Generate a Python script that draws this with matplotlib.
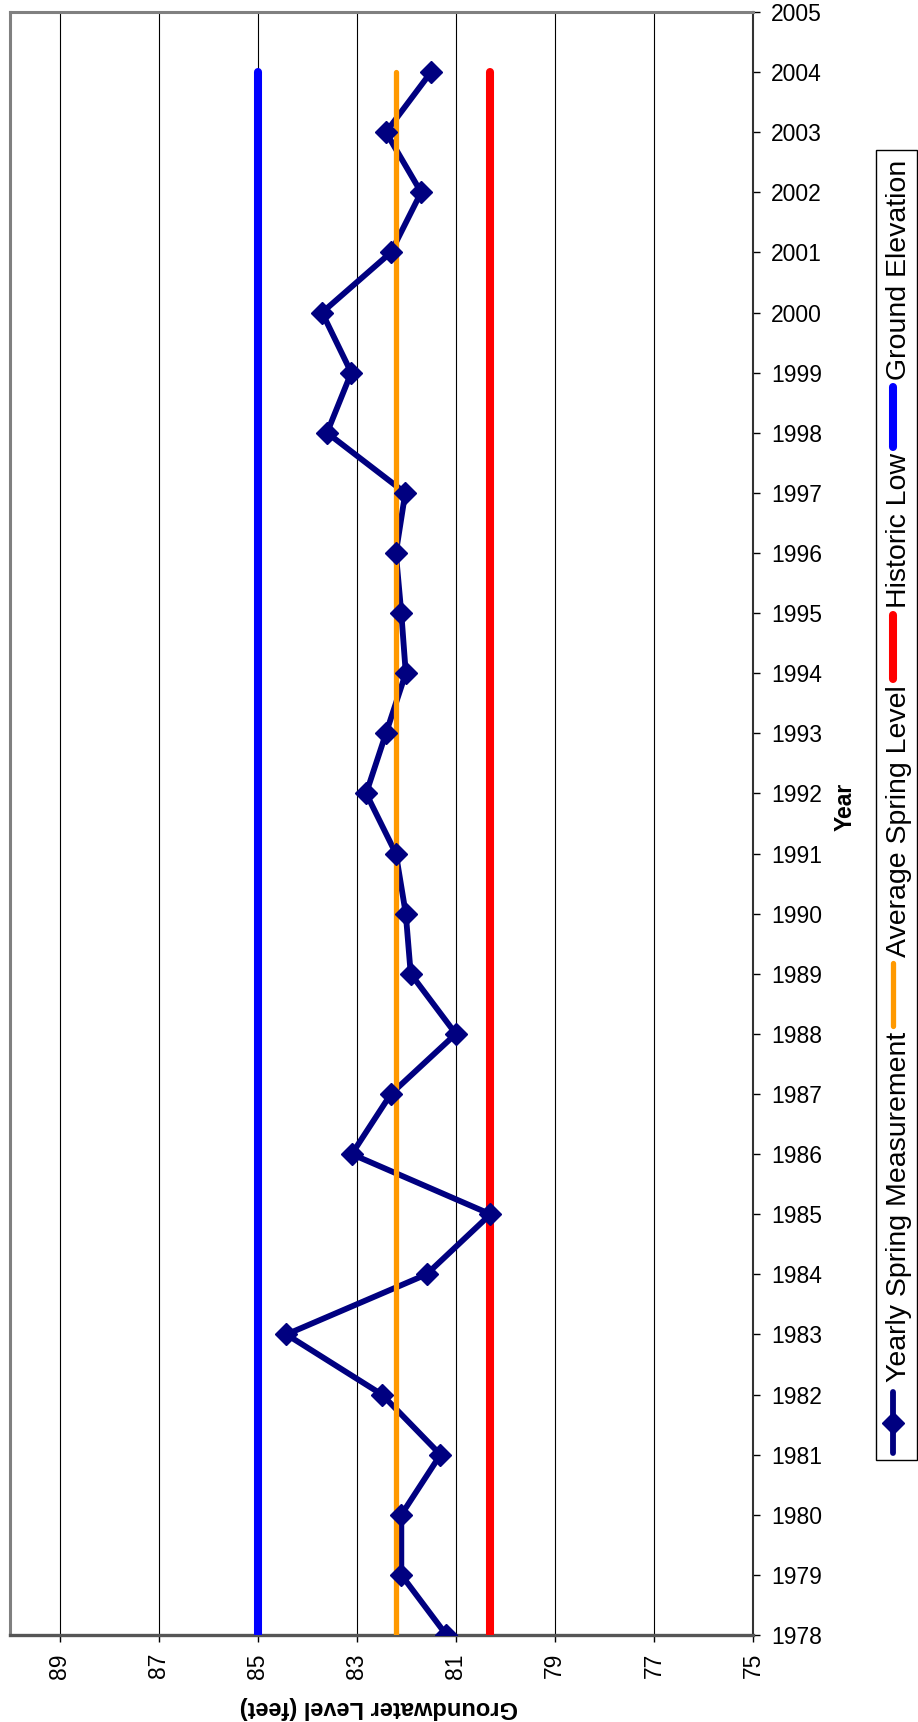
import matplotlib
matplotlib.use("Agg")
import matplotlib.pyplot as plt
from matplotlib.patches import Rectangle
from matplotlib.lines import Line2D

plt.rcParams['font.family'] = ['Liberation Sans', 'DejaVu Sans']

years = list(range(1978, 2005))
spring_level = [81.19, 82.10, 82.10, 81.31, 82.49, 84.42, 81.59, 80.30, 83.10,
                82.31, 81.00, 81.91, 82.01, 82.21, 82.81, 82.41, 82.01, 82.10,
                82.21, 82.02, 83.60, 83.11, 83.70, 82.31, 81.70, 82.41, 81.50]
avg_level = 82.2
historic_low = 80.3
ground_elev = 85.0
level_ticks = [75, 77, 79, 81, 83, 85, 87, 89]
year_ticks = list(range(1978, 2006))

legend_names = ['Yearly Spring Measurement', 'Average Spring Level',
                'Historic Low', 'Ground Elevation']
navy, orange, red, blue = '#000080', '#FF9900', '#FF0000', '#0000FF'

W, H = 918, 1722
fig = plt.figure(figsize=(W / 100, H / 100), dpi=100)
ax = fig.add_axes([10 / W, 1 - 1635 / H, 743 / W, 1623 / H])

# lines first, markers on top of everything (like Excel does it)
ax.plot(spring_level, years, color=navy, lw=4.2, zorder=2,
        solid_joinstyle='miter')
ax.plot(spring_level, years, ls='none', color=navy, marker='D', ms=11.5,
        zorder=6)
ax.plot([avg_level] * len(years), years, color=orange, lw=3.8,
        solid_capstyle='round', zorder=4)
ax.plot([historic_low] * len(years), years, color=red, lw=5.8,
        solid_capstyle='round', zorder=4)
ax.plot([ground_elev] * len(years), years, color=blue, lw=5.8,
        solid_capstyle='round', zorder=4)

ax.set_xlim(90, 75)
ax.set_ylim(1978, 2005)
ax.set_xticks(level_ticks)
ax.set_yticks(year_ticks)
ax.xaxis.grid(True, color='black', lw=0.8)
ax.set_axisbelow(True)

ax.yaxis.tick_right()
ax.tick_params(axis='y', direction='out', length=5, width=1, pad=8,
               labelsize=16.5, colors='black')
ax.tick_params(axis='x', direction='out', length=5, width=1, pad=8,
               labelsize=16.5, labelrotation=90)

for s in ['left', 'top']:
    ax.spines[s].set_color('#808080')
    ax.spines[s].set_linewidth(2.2)
ax.spines['bottom'].set_color('#555555')
ax.spines['bottom'].set_linewidth(2.4)
ax.spines['right'].set_color('#333333')
ax.spines['right'].set_linewidth(1.5)

fig.text(379 / W, 1 - 1707 / H, 'Groundwater Level (feet)', rotation=180,
         ha='center', va='center', fontsize=17, fontweight='bold')
fig.text(845 / W, 1 - 807 / H, 'Year', rotation=90,
         ha='center', va='center', fontsize=16.5, fontweight='bold')

# legend, drawn by hand because the text runs upward
lax = fig.add_axes([0, 0, 1, 1])
lax.set_xlim(0, W)
lax.set_ylim(H, 0)
lax.axis('off')
lax.add_patch(Rectangle((876, 150), 41, 1310, fill=False, ec='black', lw=1))
samples = [(1392, 1453, 1382), (963, 1026, 957), (615, 679, 608), (387, 447, 380)]
styles = [dict(color=navy, lw=4.2), dict(color=orange, lw=3.8),
          dict(color=red, lw=5.8), dict(color=blue, lw=5.8)]
for name, (y0, y1, ty), st in zip(legend_names, samples, styles):
    lax.add_line(Line2D([893, 893], [y0, y1], solid_capstyle='round', **st))
    if name == legend_names[0]:
        lax.plot([893], [(y0 + y1) / 2], marker='D', ms=11.5, color=navy)
    lax.text(906, ty, name, rotation=90, rotation_mode='anchor',
             ha='left', va='baseline', fontsize=20.5)

fig.savefig('out.png', dpi=100)
